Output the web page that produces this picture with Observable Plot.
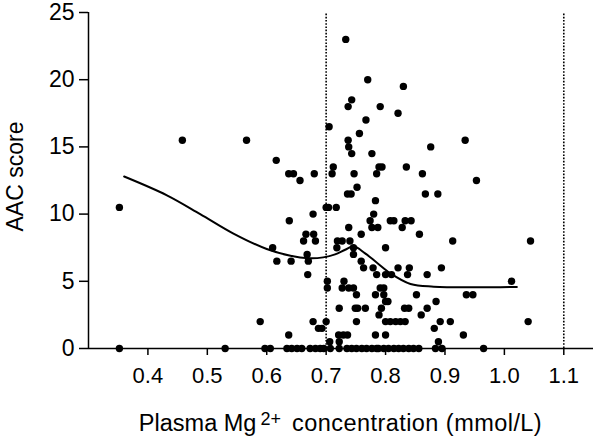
<!DOCTYPE html>
<html>
<head>
<meta charset="utf-8">
<script src="https://cdn.jsdelivr.net/npm/d3@7"></script>
<script src="https://cdn.jsdelivr.net/npm/@observablehq/plot@0.6"></script>
<style>
  html, body { margin: 0; padding: 0; background: #fff; }
  #chart svg { display: block; }
  #chart svg text { font-family: 'Liberation Sans', Arial, sans-serif; }
</style>
</head>
<body>
<div id="chart"></div>
<script>
// Plasma Mg2+ (mmol/L) and AAC score of each participant (paired arrays)
const mg = [
  0.733,
  0.770,
  0.830,
  0.743,
  0.737, 0.791,
  0.821,
  0.767,
  0.705,
  0.756,
  0.458, 0.566, 0.737, 0.934,
  0.738, 0.876,
  0.743, 0.777,
  0.616,
  0.712, 0.789, 0.794, 0.835,
  0.637, 0.645, 0.680, 0.710, 0.747, 0.785, 0.862,
  0.656, 0.953,
  0.752,
  0.736, 0.742, 0.867, 0.888,
  0.783,
  0.352, 0.700, 0.704, 0.717,
  0.678, 0.780,
  0.638, 0.774, 0.808, 0.814, 0.833, 0.843,
  0.738, 0.777, 0.787, 0.828,
  0.666, 0.679, 0.759, 0.857,
  0.662, 0.682, 0.719, 0.727, 0.740, 0.913, 1.044,
  0.610, 0.718, 0.746, 0.800,
  0.668, 0.746,
  0.617, 0.641, 0.670, 0.759,
  0.763, 0.779, 0.821, 0.840, 0.894,
  0.669, 0.785, 0.800, 0.810, 0.837, 0.870,
  0.702, 0.730, 1.012,
  0.702, 0.727, 0.738, 0.746, 0.791, 0.797,
  0.751, 0.783, 0.797, 0.852, 0.936, 0.947,
  0.800, 0.804, 0.885,
  0.722, 0.749, 0.753, 0.766, 0.793, 0.832, 0.839, 0.870,
  0.789, 0.860,
  0.589, 0.678, 0.700, 0.751, 0.800, 0.808, 0.817, 0.825, 0.833, 0.892, 0.909, 1.040,
  0.687, 0.693, 0.882,
  0.637, 0.721, 0.729, 0.736, 0.783, 0.800, 0.931,
  0.706, 0.722, 0.889,
  0.352, 0.530, 0.597, 0.606, 0.634, 0.642, 0.651, 0.659, 0.673, 0.682, 0.690, 0.696,
  0.707, 0.722, 0.735, 0.743, 0.751, 0.760, 0.768, 0.777, 0.785, 0.788, 0.797, 0.805,
  0.814, 0.822, 0.830, 0.839, 0.847, 0.856, 0.884, 0.895, 0.965
];
const aac = [
  23,
  20,
  19.5,
  18.5,
  18, 18,
  17.5,
  17,
  16.5,
  16,
  15.5, 15.5, 15.5, 15.5,
  15, 15,
  14.5, 14.5,
  14,
  13.5, 13.5, 13.5, 13.5,
  13, 13, 13, 13, 13, 13, 13,
  12.5, 12.5,
  12,
  11.5, 11.5, 11.5, 11.5,
  11,
  10.5, 10.5, 10.5, 10.5,
  10, 10,
  9.5, 9.5, 9.5, 9.5, 9.5, 9.5,
  9, 9, 9, 9,
  8.5, 8.5, 8.5, 8.5,
  8, 8, 8, 8, 8, 8, 8,
  7.5, 7.5, 7.5, 7.5,
  7, 7,
  6.5, 6.5, 6.5, 6.5,
  6, 6, 6, 6, 6,
  5.5, 5.5, 5.5, 5.5, 5.5, 5.5,
  5, 5, 5,
  4.5, 4.5, 4.5, 4.5, 4.5, 4.5,
  4, 4, 4, 4, 4, 4,
  3.5, 3.5, 3.5,
  3, 3, 3, 3, 3, 3, 3, 3,
  2.5, 2.5,
  2, 2, 2, 2, 2, 2, 2, 2, 2, 2, 2, 2,
  1.5, 1.5, 1.5,
  1, 1, 1, 1, 1, 1, 1,
  0.5, 0.5, 0.5,
  0, 0, 0, 0, 0, 0, 0, 0, 0, 0, 0, 0,
  0, 0, 0, 0, 0, 0, 0, 0, 0, 0, 0, 0,
  0, 0, 0, 0, 0, 0, 0, 0, 0
];

// Smoothed fit curve
const curveMg  = [0.360, 0.432, 0.488, 0.544, 0.600, 0.640, 0.670, 0.695, 0.715, 0.732, 0.746, 0.765, 0.785, 0.808, 0.842, 0.881, 0.950, 1.021];
const curveAac = [12.8, 11.4, 10.0, 8.55, 7.4, 6.9, 6.72, 6.78, 7.0, 7.35, 7.6, 7.1, 6.4, 5.6, 4.8, 4.6, 4.55, 4.58];

// Reference lines (normal range bounds) and ticks
const refLines = [0.7, 1.1];
const xTicks = [0.4, 0.5, 0.6, 0.7, 0.8, 0.9, 1.0, 1.1];
const yTicks = [0, 5, 10, 15, 20, 25];
const xTitleParts = ["Plasma Mg", "2+", "concentration (mmol/L)"];
const yTitle = "AAC score";

const points = mg.map((m, i) => ({mg: m, aac: aac[i]}));
const curve = curveMg.map((m, i) => ({mg: m, aac: curveAac[i]}));
const xTitleFull = xTitleParts.join(" ");

const chart = Plot.plot({
  width: 596,
  height: 436,
  marginLeft: 88,
  marginRight: 3,
  marginTop: 12,
  marginBottom: 88,
  style: {fontFamily: "'Liberation Sans', Arial, sans-serif", fontSize: "22px", background: "#fff", color: "#000"},
  x: {domain: [0.3, 1.15], ticks: xTicks, tickFormat: d3.format(".1f"), tickSize: 7, tickPadding: 12, label: null},
  y: {domain: [0, 25], ticks: yTicks, tickSize: 9, tickPadding: 5, label: null},
  marks: [
    Plot.ruleX(refLines, {y1: 0, y2: 25, stroke: "#000", strokeWidth: 1.6, strokeDasharray: "1.6,1.6"}),
    Plot.ruleY([0], {stroke: "#000", strokeWidth: 1.5}),
    Plot.ruleX([0.3], {y1: 0, y2: 25, stroke: "#000", strokeWidth: 1.5}),
    Plot.line(curve, {x: "mg", y: "aac", curve: "catmull-rom", stroke: "#000", strokeWidth: 2}),
    Plot.dot(points, {x: "mg", y: "aac", r: 3.7, fill: "#000", stroke: "none"}),
    Plot.text([yTitle], {text: d => d, frameAnchor: "left", textAnchor: "middle", lineAnchor: "middle", dx: -72.5, dy: -4, rotate: -90, fontSize: 23, fill: "#000"}),
    Plot.text([xTitleFull], {text: d => d, frameAnchor: "bottom", textAnchor: "middle", lineAnchor: "middle", dx: -0.5, dy: 75, fontSize: 23.5, fill: "#000"})
  ]
});

document.getElementById("chart").appendChild(chart);

const svg = d3.select(chart);
// axis tick labels and tick strokes
svg.selectAll('g[aria-label*="axis"] text, g[aria-label*="axis"] tspan')
  .style("font-size", "22px").style("fill", "#000")
  .style("font-family", "'Liberation Sans', Arial, sans-serif");
svg.selectAll('g[aria-label*="y-axis"] text').style("font-size", "23px");
svg.selectAll('g[aria-label*="axis"] path, g[aria-label*="axis"] line')
  .style("stroke-width", "1.5px").style("stroke", "#000");

// superscript in the x title
svg.selectAll("text").each(function () {
  if (this.textContent === xTitleFull) {
    const t = d3.select(this);
    t.text(null);
    t.append("tspan").text(xTitleParts[0]);
    t.append("tspan").attr("dx", 4).attr("dy", -6).attr("font-size", 18).text(xTitleParts[1]);
    t.append("tspan").attr("dx", 11).attr("dy", 6).attr("font-size", 23.5).style("letter-spacing", "0.45px").text(xTitleParts[2]);
  }
});
</script>
</body>
</html>
